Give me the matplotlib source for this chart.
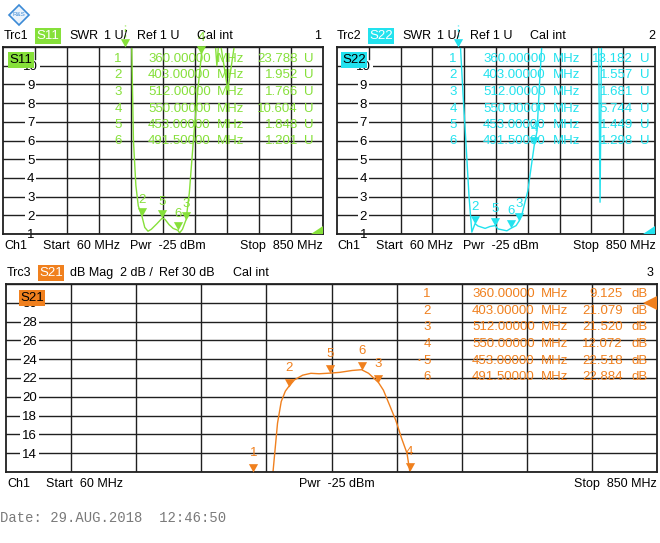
import numpy as np
import matplotlib
matplotlib.use("Agg")
import matplotlib.pyplot as plt
from matplotlib.patches import Polygon

plt.rcParams['font.family'] = ['Liberation Sans', 'DejaVu Sans']

# sweep settings
f_start, f_stop = 60, 850

# trace S11 (SWR)
freq_s11 = [60, 200, 372, 377, 382, 388, 394, 403, 410, 418, 426, 440, 453, 460,
            470, 480, 491.5, 496, 503, 512, 520, 530, 540, 550, 558, 575, 588,
            594, 615, 634, 645, 850]
swr_s11 = [25, 25, 25, 12, 6.0, 3.6, 2.5, 1.95, 1.35, 1.15, 1.25, 1.55, 1.85, 1.78,
           1.5, 1.3, 1.2, 1.06, 1.25, 1.77, 3.2, 6.0, 8.5, 10.6, 12.5, 14, 10.0,
           11.6, 8.7, 11.5, 20, 20]

# trace S22 (SWR)
freq_s22 = [60, 360, 366, 373, 380, 388, 395, 403, 410, 428, 440, 453, 460, 482,
            491.5, 505, 512, 520, 534, 550, 557, 563, 570, 580, 706, 710, 713.5,
            717, 721, 850]
swr_s22 = [20, 13.18, 11.3, 8.5, 6.0, 3.0, 1.1, 1.557, 1.43, 1.3, 1.4, 1.449, 1.27,
           1.17, 1.298, 1.45, 1.681, 2.1, 3.3, 5.744, 6.5, 9.0, 11.5, 20, 20, 11,
           2.7, 11, 20, 20]

# trace S21 (dB Mag)
freq_s21 = [60, 370, 380, 384, 389.5, 394, 399, 403, 410, 420, 430, 440, 453, 465,
            480, 491.5, 500, 512, 518, 526, 533, 540, 546.6, 550, 553, 560, 850]
mag_s21 = [0, 0, 8, 12, 17.2, 19.5, 20.6, 21.079, 21.8, 22.3, 22.5, 22.45, 22.518,
           22.6, 22.8, 22.884, 22.5, 21.52, 20.7, 19.0, 17.5, 15.6, 14.0, 12.072,
           11, 8, 0]

# markers
mk_num = [1, 2, 3, 4, 5, 6]
mk_freq = [360, 403, 512, 550, 453, 491.5]
mk_freq_txt = ['360.00000', '403.00000', '512.00000', '550.00000', '453.00000', '491.50000']
s11_mk = [23.788, 1.952, 1.766, 10.604, 1.848, 1.201]
s22_mk = [13.182, 1.557, 1.681, 5.744, 1.449, 1.298]
s21_mk = [9.125, 21.079, 21.520, 12.072, 22.518, 22.884]

GREEN = '#86e03a'
CYAN = '#22e2ee'
ORANGE = '#f0801e'

W, H = 660, 543
fig = plt.figure(figsize=(W / 100, H / 100), dpi=100)

TRI = [(-0.55, 1.0), (0.55, 1.0), (0, 0), (-0.55, 1.0)]


def make_axes(l, r, t, b):
    return fig.add_axes([l / W, 1 - b / H, (r - l) / W, (b - t) / H])


def style_grid(ax, ylim, yticks, ylabels, xtick_from, label_pad):
    ax.set_xlim(f_start, f_stop)
    ax.set_ylim(*ylim)
    step = (f_stop - f_start) / 10
    ax.set_xticks([f_start + k * step for k in range(xtick_from, 10)])
    ax.set_xticklabels([])
    ax.set_yticks(yticks)
    ax.set_yticklabels(ylabels)
    ax.tick_params(length=0)
    ax.tick_params(axis='y', pad=label_pad, labelsize=9.5)
    for lbl in ax.get_yticklabels():
        lbl.set_horizontalalignment('center')
        lbl.set_bbox(dict(fc='white', ec='none', pad=1.2))
    ax.grid(True, color='#202020', lw=1.0)
    for s in ax.spines.values():
        s.set_linewidth(1.3)
        s.set_color('#202020')


def draw_markers(ax, vals, color, ylim, off, top_dash=False):
    for n, f, v in zip(mk_num, mk_freq, vals):
        vv = min(max(v, ylim[0]), ylim[1])
        ax.plot([f], [vv], marker=TRI, ms=12, mew=0, color=color,
                clip_on=False, zorder=5)
        if v > ylim[1]:
            if top_dash:
                span = ylim[1] - ylim[0]
                ax.plot([f, f], [ylim[1] + 0.055 * span, ylim[1] + 0.115 * span],
                        color=color, lw=1, ls=(0, (2, 2)), clip_on=False)
            continue
        ax.annotate(str(n), (f, vv), xytext=(0, off), textcoords='offset pixels',
                    ha='center', va='center', color=color, fontsize=9.5,
                    annotation_clip=False)


# --- top left: S11 SWR
ax1 = make_axes(3, 323, 47, 234)
style_grid(ax1, (1, 11), range(1, 12), [str(i) for i in range(1, 11)] + [''], 2, -20)
ax1.plot(freq_s11, swr_s11, color=GREEN, lw=1.0)
ax1.plot([139, 139], [10.35, 11], color='#202020', lw=1.0)
draw_markers(ax1, s11_mk, GREEN, (1, 11), 16, top_dash=True)

# --- top right: S22 SWR
ax2 = make_axes(337, 655, 47, 234)
style_grid(ax2, (1, 11), range(1, 12), [str(i) for i in range(1, 11)] + [''], 2, -19)
ax2.plot(freq_s22, swr_s22, color=CYAN, lw=1.0)
ax2.plot([139, 139], [10.35, 11], color='#202020', lw=1.0)
draw_markers(ax2, s22_mk, CYAN, (1, 11), 17, top_dash=True)

# --- bottom: S21 dB Mag
ax3 = make_axes(6, 657, 284, 472)
ylab3 = ['' if v in (12, 32) else str(v) for v in range(12, 33, 2)]
style_grid(ax3, (12, 32), range(12, 33, 2), ylab3, 1, -17)
ax3.plot(freq_s21, mag_s21, color=ORANGE, lw=1.0)
draw_markers(ax3, s21_mk, ORANGE, (12, 32), 19)

# --- overlay for the instrument annotations (pixel coordinates)
ov = fig.add_axes([0, 0, 1, 1], zorder=10)
ov.set_xlim(0, W)
ov.set_ylim(H, 0)
ov.axis('off')
ov.patch.set_alpha(0)


def t(x, y, s, ha='left', color='black', size=9, **kw):
    ov.text(x, y, s, ha=ha, va='center', color=color, fontsize=size, **kw)


def tag(x, y, s, bg, fg):
    ov.text(x, y, s, ha='center', va='center', color=fg, fontsize=9.5,
            bbox=dict(boxstyle='square,pad=0.12', fc=bg, ec='none'))


# logo
ov.add_patch(Polygon([(19, 5), (29, 15), (19, 25), (9, 15)], closed=True,
                     fc='#eaf3fc', ec='#3b8ad6', lw=1.2))
t(19, 15, 'R&S', ha='center', color='#3b8ad6', size=4.5)

# headers
for (x0, trc, sname, col, right_lbl, rx) in [(4, 'Trc1', 'S11', GREEN, '1', 318),
                                             (337, 'Trc2', 'S22', CYAN, '2', 652)]:
    t(x0, 36, trc)
    tag(x0 + 44, 36, sname, col, 'white')
    t(x0 + 65, 36, 'SWR')
    t(x0 + 100, 36, '1 U/')
    t(x0 + 133, 36, 'Ref 1 U')
    t(x0 + 193, 36, 'Cal int')
    t(rx, 36, right_lbl, ha='center')
    tag(x0 + 17, 60, sname, col, 'black')
    t(x0, 246, 'Ch1')
    t(x0 + 39, 246, 'Start  60 MHz')
    t(x0 + 126, 246, 'Pwr  -25 dBm')
    t(x0 + 319, 246, 'Stop  850 MHz', ha='right')

t(7, 273, 'Trc3')
tag(51, 273, 'S21', ORANGE, 'white')
t(70, 273, 'dB Mag')
t(120, 273, '2 dB /')
t(159, 273, 'Ref 30 dB')
t(233, 273, 'Cal int')
t(650, 273, '3', ha='center')
tag(32, 298, 'S21', ORANGE, 'black')
t(7, 484, 'Ch1')
t(46, 484, 'Start  60 MHz')
t(299, 484, 'Pwr  -25 dBm')
t(657, 484, 'Stop  850 MHz', ha='right')

# marker tables
rows_top = [59, 75.5, 92, 108.5, 125, 141.5]
for i in range(6):
    y = rows_top[i]
    t(118, y, str(mk_num[i]), ha='center', color=GREEN, size=9.5)
    t(148, y, mk_freq_txt[i], color=GREEN, size=9.5)
    t(217, y, 'MHz', color=GREEN, size=9.5)
    t(298, y, '%.3f' % s11_mk[i], ha='right', color=GREEN, size=9.5)
    t(309, y, 'U', ha='center', color=GREEN, size=9.5)

    t(453, y, str(mk_num[i]), ha='center', color=CYAN, size=9.5)
    t(483, y, mk_freq_txt[i], color=CYAN, size=9.5)
    t(553, y, 'MHz', color=CYAN, size=9.5)
    t(633, y, '%.3f' % s22_mk[i], ha='right', color=CYAN, size=9.5)
    t(645, y, 'U', ha='center', color=CYAN, size=9.5)

rows_bot = [294, 311, 327.5, 344, 360.5, 377]
for i in range(6):
    y = rows_bot[i]
    t(427, y, str(mk_num[i]), ha='center', color=ORANGE, size=9.5)
    t(472, y, mk_freq_txt[i], color=ORANGE, size=9.5)
    t(541, y, 'MHz', color=ORANGE, size=9.5)
    t(623, y, '%.3f' % s21_mk[i], ha='right', color=ORANGE, size=9.5)
    t(632, y, 'dB', color=ORANGE, size=9.5)
t(419, rows_bot[4], '•', ha='center', color=ORANGE, size=6)

# corner indicators
ov.add_patch(Polygon([(311, 234), (323, 234), (323, 226)], closed=True, fc=GREEN, ec='none'))
ov.add_patch(Polygon([(643, 234), (655, 234), (655, 226)], closed=True, fc=CYAN, ec='none'))
ov.add_patch(Polygon([(643, 303), (657, 296), (657, 310)], closed=True, fc=ORANGE, ec='none'))

ov.text(0, 518, 'Date: 29.AUG.2018  12:46:50', ha='left', va='center',
        family=['Liberation Mono', 'DejaVu Sans Mono'], fontsize=10, color='#7a7a7a')

fig.savefig('out.png', dpi=100)
